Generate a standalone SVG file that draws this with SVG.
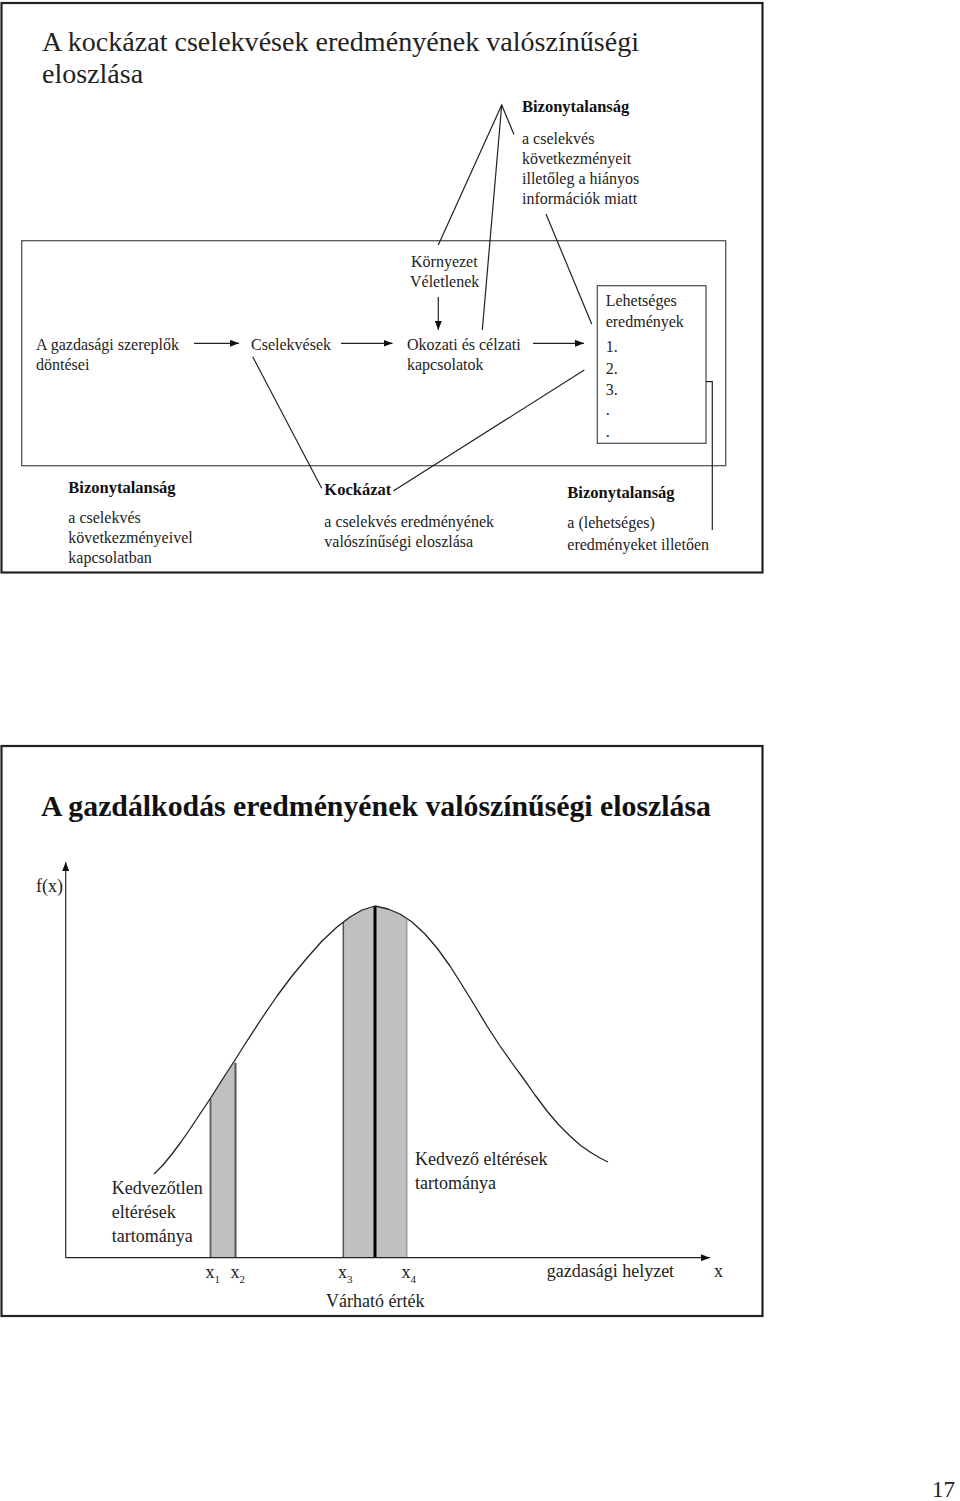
<svg xmlns="http://www.w3.org/2000/svg" width="960" height="1501" viewBox="0 0 960 1501">
<style>
text{font-family:"Liberation Serif","Times New Roman",serif;fill:#222}
.t{font-size:28px}
.tb{font-size:28.5px;font-weight:bold;fill:#111}
.n{font-size:16px}
.b{font-size:16.5px;font-weight:bold;fill:#111}
.m{font-size:18px}
.s{font-size:11px}
.ln{stroke:#222;stroke-width:1.2;fill:none}
.frame{fill:none;stroke:#222;stroke-width:2.2}
.box{fill:none;stroke:#555;stroke-width:1.3}
</style>
<defs>
<marker id="ah" viewBox="0 0 10 10" refX="10" refY="5" markerWidth="9" markerHeight="7" markerUnits="userSpaceOnUse" orient="auto" preserveAspectRatio="none"><path d="M0,0 L10,5 L0,10 z" fill="#111"/></marker>
</defs>
<rect width="960" height="1501" fill="#fff"/>

<!-- Slide 1 -->
<g id="slide1">
<rect class="frame" x="1.5" y="3" width="761" height="569.5"/>
<rect class="box" x="21.7" y="240.7" width="704" height="225"/>
</g>
<g id="title1">
<text class="t" x="42" y="51" textLength="597" lengthAdjust="spacingAndGlyphs">A kockázat cselekvések eredményének valószínűségi</text>
<text class="t" x="42" y="83">eloszlása</text>
</g>
<g id="bizonytalansag-top">
<text class="b" x="522" y="112">Bizonytalanság</text>
<text class="n" x="522" y="144">a cselekvés</text>
<text class="n" x="522" y="164">következményeit</text>
<text class="n" x="522" y="184">illetőleg a hiányos</text>
<text class="n" x="522" y="204">információk miatt</text>
</g>
<g id="kornyezet">
<text class="n" x="411" y="267">Környezet</text>
<text class="n" x="410" y="287">Véletlenek</text>
</g>
<g id="dontesek">
<text class="n" x="36" y="350">A gazdasági szereplők</text>
<text class="n" x="36" y="370">döntései</text>
</g>
<g id="cselekvesek">
<text class="n" x="251" y="350">Cselekvések</text>
</g>
<g id="okozati">
<text class="n" x="407" y="350">Okozati és célzati</text>
<text class="n" x="407" y="370">kapcsolatok</text>
</g>
<g id="lehetseges">
<rect class="box" x="597.3" y="285.7" width="108.7" height="157.6"/>
<text class="n" x="605.7" y="306">Lehetséges</text>
<text class="n" x="605.7" y="327">eredmények</text>
<text class="n" x="605.7" y="352">1.</text>
<text class="n" x="605.7" y="373.5">2.</text>
<text class="n" x="605.7" y="395">3.</text>
<text class="n" x="605.7" y="415">.</text>
<text class="n" x="605.7" y="437">.</text>
</g>
<g id="bizonytalansag-left">
<text class="b" x="68.3" y="493">Bizonytalanság</text>
<text class="n" x="68.3" y="523">a cselekvés</text>
<text class="n" x="68.3" y="543">következményeivel</text>
<text class="n" x="68.3" y="563">kapcsolatban</text>
</g>
<g id="kockazat">
<text class="b" x="324.3" y="495">Kockázat</text>
<text class="n" x="324.3" y="527">a cselekvés eredményének</text>
<text class="n" x="324.3" y="547">valószínűségi eloszlása</text>
</g>
<g id="bizonytalansag-right">
<text class="b" x="567.3" y="498">Bizonytalanság</text>
<text class="n" x="567.3" y="528">a (lehetséges)</text>
<text class="n" x="567.3" y="550">eredményeket illetően</text>
</g>
<g id="connectors1">
<line class="ln" x1="194" y1="343.3" x2="239" y2="343.3" marker-end="url(#ah)"/>
<line class="ln" x1="341" y1="343.3" x2="392.5" y2="343.3" marker-end="url(#ah)"/>
<line class="ln" x1="533" y1="343.3" x2="584" y2="343.3" marker-end="url(#ah)"/>
<line class="ln" x1="438.3" y1="297" x2="438.3" y2="330" marker-end="url(#ah)"/>
<polyline class="ln" points="438.3,245 501.7,105 514,134.5"/>
<line class="ln" x1="501.7" y1="105" x2="482.3" y2="330"/>
<line class="ln" x1="546" y1="214" x2="591.7" y2="324"/>
<line class="ln" x1="252.7" y1="356.7" x2="321.7" y2="488.3"/>
<line class="ln" x1="584.3" y1="370" x2="393.3" y2="491"/>
<polyline class="ln" points="706,381.7 712.3,381.7 712.3,530"/>
</g>

<!-- Slide 2 -->
<g id="slide2">
<rect class="frame" x="1.5" y="746" width="761" height="570"/>
</g>
<g id="title2">
<text class="tb" x="41" y="816" textLength="670" lengthAdjust="spacingAndGlyphs">A gazdálkodás eredményének valószínűségi eloszlása</text>
</g>
<g id="shading">
<polygon fill="#c0c0c0" points="210.5,1257.7 210.5,1099 222,1080 235.5,1060 235.5,1257.7"/>
<polygon fill="#c0c0c0" points="343.3,1257.7 343.3,922 350,917 362,910 375,906 388,909 400,914 406.7,919 406.7,1257.7"/>
<line x1="210.5" y1="1099" x2="210.5" y2="1257.7" stroke="#666" stroke-width="2"/>
<line x1="235.5" y1="1063" x2="235.5" y2="1257.7" stroke="#555" stroke-width="2"/>
<line x1="343.3" y1="922" x2="343.3" y2="1257.7" stroke="#555" stroke-width="1.5"/>
<line x1="406.7" y1="920" x2="406.7" y2="1257.7" stroke="#999" stroke-width="1.5"/>
<line x1="375" y1="906" x2="375" y2="1257.7" stroke="#000" stroke-width="3"/>
</g>
<g id="curve">
<polyline fill="none" stroke="#222" stroke-width="1.3" stroke-linejoin="round" points="154,1174 163,1165 172,1154 181,1142 190,1129 200,1114 210,1099 222,1080 235,1060 247,1041 262,1018 277,996 292,976 307,958 322,941 337,927 350,917 362,910 375,906 388,909 400,914 412,922 425,934 437,948 450,966 462,985 475,1006 487,1026 500,1046 512,1063 523,1078 535,1095 547,1111 558,1124 570,1136 580,1145 590,1152 600,1158 608,1162"/>
</g>
<g id="axes">
<line class="ln" x1="65.7" y1="1257.7" x2="65.7" y2="862" marker-end="url(#ah)"/>
<line class="ln" x1="65.7" y1="1257.7" x2="710" y2="1257.7" marker-end="url(#ah)"/>
</g>
<g id="labels2">
<text class="m" x="36" y="891.7">f(x)</text>
<text class="m" x="111.7" y="1194">Kedvezőtlen</text>
<text class="m" x="111.7" y="1217.5">eltérések</text>
<text class="m" x="111.7" y="1241.5">tartománya</text>
<text class="m" x="415" y="1165">Kedvező eltérések</text>
<text class="m" x="415" y="1189">tartománya</text>
<text class="m" x="205.5" y="1278">x</text><text class="s" x="214.5" y="1283">1</text>
<text class="m" x="230.5" y="1278">x</text><text class="s" x="239.5" y="1283">2</text>
<text class="m" x="338" y="1278">x</text><text class="s" x="347" y="1283">3</text>
<text class="m" x="401.5" y="1278">x</text><text class="s" x="410.5" y="1283">4</text>
<text class="m" x="326" y="1306.7">Várható érték</text>
<text class="m" x="546.7" y="1277.3">gazdasági helyzet</text>
<text class="m" x="714" y="1277.3">x</text>
</g>
<g id="page">
<text x="932" y="1496.7" style="font-size:23px">17</text>
</g>
</svg>
